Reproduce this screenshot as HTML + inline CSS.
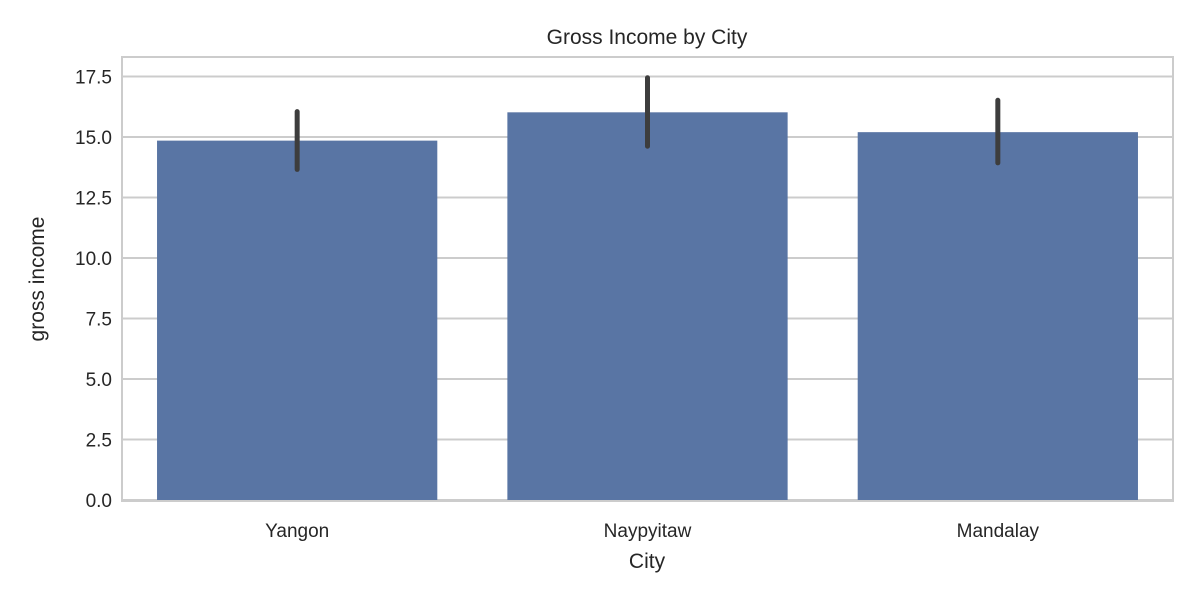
<!DOCTYPE html>
<html><head><meta charset="utf-8"><style>
html,body{margin:0;padding:0;background:#fff;}
svg{display:block;font-family:"Liberation Sans",sans-serif;}
</style></head><body>
<svg id="chart" width="1200" height="600">
<rect x="0" y="0" width="1200" height="600" fill="#fff"/>
<g id="grid"></g>
<g id="bars"></g>
<g id="errs"></g>
<rect x="122" y="57" width="1051" height="444" fill="none" stroke="#cccccc" stroke-width="2"/>
<g id="yticks"></g>
<g id="xticks"></g>
<text x="647" y="44" text-anchor="middle" font-size="21" fill="#262626">Gross Income by City</text>
<text x="647" y="568" text-anchor="middle" font-size="21" fill="#262626">City</text>
<text transform="translate(44,279) rotate(-90)" text-anchor="middle" font-size="21" fill="#262626">gross income</text>
</svg>
<script>
const categories=["Yangon","Naypyitaw","Mandalay"];
const values=[14.85,16.02,15.2];
const errLow=[13.66,14.62,13.93];
const errHigh=[16.05,17.45,16.52];
const yTicks=[0,2.5,5,7.5,10,12.5,15,17.5];
const yTickLabels=["0.0","2.5","5.0","7.5","10.0","12.5","15.0","17.5"];
const NS="http://www.w3.org/2000/svg";
const L=122,R=1173,T=57,B=500;
const y=v=>B-v*(60.5/2.5);
const band=(R-L)/categories.length;
const xc=i=>L+band*(i+0.5);
function mk(tag,attrs,parent){const e=document.createElementNS(NS,tag);for(const k in attrs)e.setAttribute(k,attrs[k]);document.getElementById(parent).appendChild(e);return e;}
yTicks.forEach((t,i)=>{
 const g=mk('line',{x1:L,x2:R,y1:y(t),y2:y(t),stroke:'#cccccc','stroke-width':2},'grid');
 
 
 const tx=mk('text',{x:L-10,y:y(t)+7,'text-anchor':'end','font-size':19,fill:'#262626'},'yticks');
 tx.textContent=yTickLabels[i];
 
 
});
categories.forEach((c,i)=>{
 const w=band*0.8;
 const b=mk('rect',{x:xc(i)-w/2,y:y(values[i]),width:w,height:y(0)-y(values[i]),fill:'#5975a4'},'bars');
 
 
 const e=mk('line',{x1:xc(i),x2:xc(i),y1:y(errLow[i]),y2:y(errHigh[i]),stroke:'#3d3d3d','stroke-width':5,'stroke-linecap':'round'},'errs');
 
 
 const tx=mk('text',{x:xc(i),y:537,'text-anchor':'middle','font-size':19,fill:'#262626'},'xticks');
 tx.textContent=c;
 
 
});
</script>
</body></html>
